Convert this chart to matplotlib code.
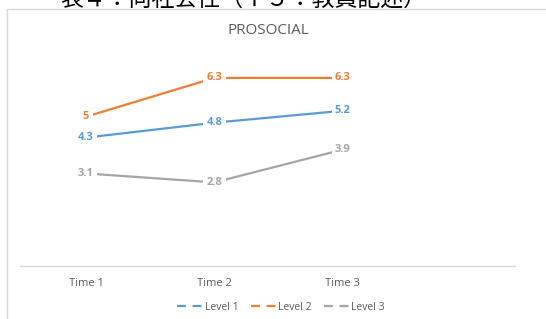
import matplotlib
matplotlib.use("Agg")
import matplotlib.pyplot as plt
import matplotlib.transforms as mtransforms
from matplotlib.patches import Rectangle
from matplotlib.lines import Line2D

times = ["Time 1", "Time 2", "Time 3"]
level1 = [4.3, 4.8, 5.2]
level2 = [5, 6.3, 6.3]
level3 = [3.1, 2.8, 3.9]
series_names = ["Level 1", "Level 2", "Level 3"]
colors = ["#5B9BD5", "#ED7D31", "#A5A5A5"]

W, H = 546, 319
plt.rcParams["font.family"] = ["Open Sans", "DejaVu Sans"]

fig = plt.figure(figsize=(W / 100, H / 100), dpi=100)

def px(x, y):
    # pixel coords (top-left origin) -> figure fraction
    return x / W, 1 - y / H

# outer chart frame
x0, y0 = px(7, 9)
fig.add_artist(Rectangle((x0, -0.1), 1.2, y0 + 0.1, transform=fig.transFigure,
                         facecolor="white", edgecolor="#d9d9d9", lw=1, zorder=1))

# Japanese caption, cut off at the top like in the source
fig.text(243 / W, 1 + 1 / H, "表４：向社会性（Ｔ５：教員記述）", ha="center", va="center",
         fontsize=16.5, color="black", family=["Noto Sans CJK JP", "DejaVu Sans"], zorder=0)

fig.text(268 / W, 1 - 30 / H, "PROSOCIAL", ha="center", va="center",
         fontsize=11, color="#595959", zorder=3)

left, bottom = px(20, 266)
right, top = px(515, 57)
ax = fig.add_axes([left, bottom, right - left, top - bottom], zorder=2)
ax.patch.set_alpha(0)

xs = range(len(times))
for vals, name, c in zip([level1, level2, level3], series_names, colors):
    ax.plot(xs, vals, color=c, lw=1.6, label=name, solid_capstyle="butt", zorder=2)
    for x, v in zip(xs, vals):
        ax.text(x, v, f"{v:g}", ha="center", va="center", color=c, fontsize=8,
                fontweight="bold", zorder=3,
                bbox=dict(boxstyle="square,pad=0.3", fc="white", ec="none"))

ax.set_xlim(-0.514, 3.34)
ax.set_ylim(0, 7)
ax.set_yticks([])
ax.set_xticks(list(xs))
ax.set_xticklabels(times, fontsize=8, color="#595959")
shift = mtransforms.ScaledTranslation(-9 / 100, 0, fig.dpi_scale_trans)
for lab in ax.get_xticklabels():
    lab.set_transform(lab.get_transform() + shift)
ax.tick_params(axis="x", length=0, pad=9)
for s in ["top", "right", "left"]:
    ax.spines[s].set_visible(False)
ax.spines["bottom"].set_color("#d9d9d9")
ax.spines["bottom"].set_linewidth(1)

handles = [Line2D([], [], color=c, lw=1.6, dashes=(4, 3)) for c in colors]
lx, ly = px(281, 307)
fig.legend(handles, series_names, loc="center", bbox_to_anchor=(lx, ly), ncol=3,
           frameon=False, fontsize=7.5, labelcolor="#595959", handlelength=2.4,
           handletextpad=0.2, columnspacing=1.2)

fig.savefig("out.png", dpi=100)
